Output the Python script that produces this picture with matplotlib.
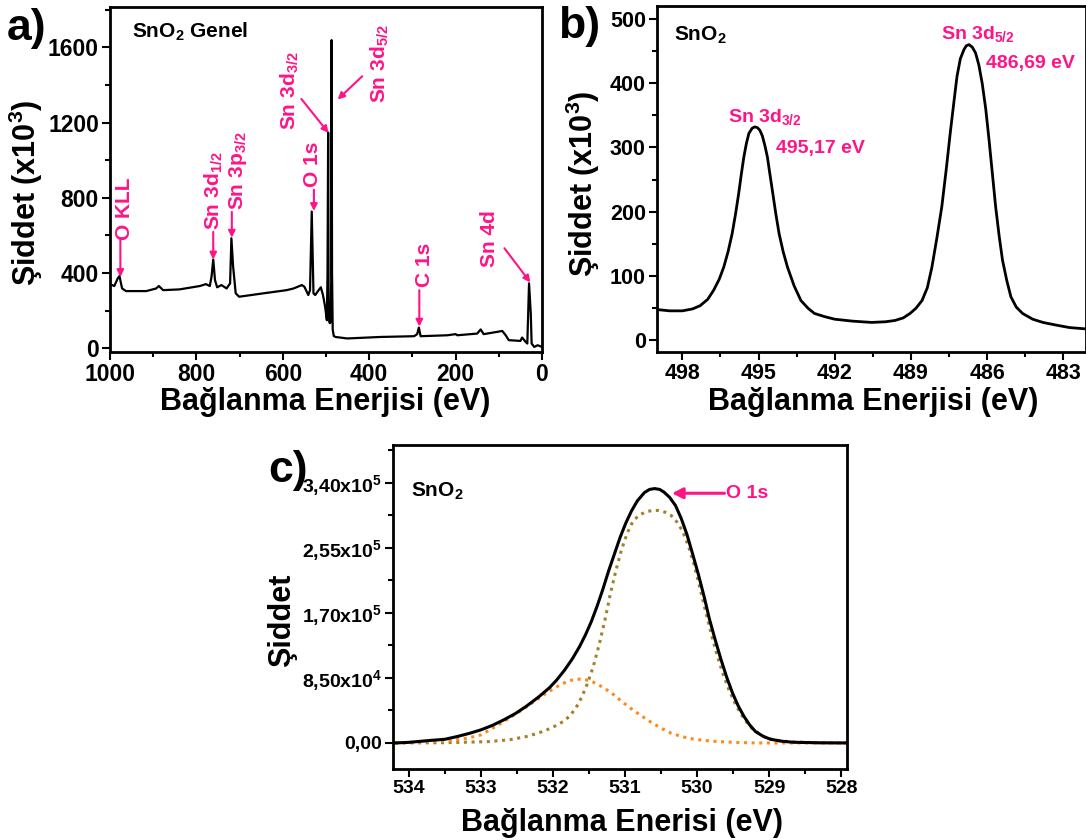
import numpy as np
import matplotlib
matplotlib.use("Agg")
import matplotlib.pyplot as plt
from matplotlib.ticker import MultipleLocator, FixedLocator, FixedFormatter

plt.rcParams['font.family'] = ['Liberation Sans', 'DejaVu Sans']
plt.rcParams['font.weight'] = 'bold'
plt.rcParams['mathtext.fontset'] = 'custom'
plt.rcParams['mathtext.rm'] = 'Liberation Sans:bold'
plt.rcParams['mathtext.bf'] = 'Liberation Sans:bold'
plt.rcParams['mathtext.it'] = 'Liberation Sans:bold'
plt.rcParams['mathtext.default'] = 'bf'

PINK = '#ff1488'
OLIVE = '#a0822a'
ORANGE = '#ff8a1c'

# a) survey spectrum, intensity in x10^3
survey_energy = [1000, 990, 982, 978, 975, 972, 963, 916, 893, 887, 877, 839, 792, 778,
                 769, 765, 761, 757, 752, 742, 730, 722, 719, 715, 709, 701, 645, 591,
                 575, 556, 550, 541, 537, 533, 529, 525, 517, 512, 507, 502, 498, 496.5,
                 495, 494, 492.5, 491, 489.5, 488, 487, 486, 484.5, 482, 478, 451, 374,
                 296, 289, 285, 281, 219, 200, 196, 150, 142, 135, 104, 92, 84, 77, 50,
                 46, 38, 34, 30, 26, 24, 18, 10, 0]
survey_counts = [341, 331, 372, 384, 350, 318, 304, 304, 318, 331, 309, 313, 331, 341,
                 331, 380, 472, 363, 324, 336, 318, 345, 585, 434, 292, 274, 292, 309,
                 318, 336, 327, 283, 309, 727, 292, 283, 309, 324, 283, 220, 149, 400,
                 1147, 250, 140, 133, 140, 350, 1639, 400, 100, 65, 60, 52, 60,
                 64, 75, 110, 64, 69, 75, 69, 78, 100, 75, 87, 92, 69, 43, 39,
                 57, 34, 25, 345, 185, 25, 7, 16, 7]

# b) Sn 3d region, intensity in x10^3
sn3d_energy = [499.0, 498.5, 498.0, 497.6, 497.3, 497.0, 496.77, 496.55, 496.37, 496.2,
               496.04, 495.9, 495.78, 495.68, 495.58, 495.48, 495.38, 495.25, 495.15, 495.05,
               494.95, 494.85, 494.75, 494.65, 494.55, 494.44, 494.32, 494.19, 494.03, 493.86,
               493.6, 493.33, 493.05, 492.8, 492.4, 492.0, 491.3, 490.55, 490.0, 489.63,
               489.3, 489.03, 488.8, 488.56, 488.35, 488.17, 487.98, 487.78, 487.6, 487.45,
               487.3, 487.18, 487.05, 486.91, 486.82, 486.71, 486.58, 486.45, 486.32, 486.19,
               486.05, 485.92, 485.79, 485.66, 485.52, 485.39, 485.22, 485.06, 484.85, 484.6,
               484.2, 483.8, 483.3, 482.75, 482.13]
sn3d_counts = [48, 46, 46, 49, 54, 64, 78, 95, 114, 138,
               166, 198, 229, 258, 285, 306, 322, 330, 332, 331,
               327, 318, 303, 285, 258, 229, 197, 166, 138, 114,
               85, 62, 50, 42, 37, 33, 30, 28, 29, 31,
               35, 42, 50, 62, 82, 114, 158, 208, 268, 322,
               372, 411, 438, 452, 458, 460, 456, 447, 428, 400,
               360, 312, 260, 208, 162, 125, 93, 68, 52, 42,
               33, 28, 24, 20, 18]

# c) O 1s region: envelope and two fitted components
o1s_energy = [534.19, 534.0, 533.69, 533.5, 533.32, 533.15, 533.0, 532.84, 532.68, 532.52,
              532.37, 532.2, 532.05, 531.95, 531.84, 531.73, 531.63, 531.55, 531.47, 531.39,
              531.31, 531.23, 531.15, 531.07, 530.99, 530.91, 530.83, 530.73, 530.66, 530.59,
              530.52, 530.46, 530.38, 530.30, 530.22, 530.14, 530.06, 529.98, 529.9, 529.83,
              529.75, 529.67, 529.59, 529.51, 529.43, 529.35, 529.27, 529.19, 529.08, 528.98,
              528.82, 528.66, 528.3, 527.92]
o1s_counts = [0, 800, 3400, 4800, 8600, 12800, 17100, 23000, 30300, 38500,
              47900, 60000, 72000, 82000, 95000, 110000, 126000, 141000, 158000, 178000,
              200000, 224000, 246000, 268000, 287000, 303000, 316000, 327000, 331000, 332100,
              331000, 327500, 320500, 310000, 293000, 271900, 246000, 219200, 190000, 162100,
              135000, 109400, 86000, 65500, 48500, 34700, 23500, 14900, 8500, 4800,
              2200, 900, 200, 0]

comp1_energy = [534.19, 533.5, 532.89, 532.6, 532.37, 532.2, 532.05, 531.95, 531.84, 531.76,
                531.68, 531.6, 531.52, 531.44, 531.36, 531.28, 531.21, 531.13, 531.05, 530.97,
                530.89, 530.81, 530.73, 530.63, 530.54, 530.45, 530.36, 530.28, 530.20, 530.12,
                530.04, 529.96, 529.88, 529.8, 529.72, 529.64, 529.56, 529.48, 529.40, 529.32,
                529.24, 529.13, 529.03, 528.85, 528.66, 528.3, 527.92]
comp1_counts = [0, 300, 1760, 4200, 8350, 13000, 18500, 23000, 29000, 36000,
                46000, 60000, 78000, 100000, 128000, 160000, 192000, 224000, 252000, 274000,
                289500, 297000, 301000, 303500, 303500, 301500, 297000, 288500, 276300, 257000,
                232400, 202000, 170900, 141000, 113800, 90000, 69800, 53000, 39100, 28000,
                19300, 11500, 6150, 2600, 1300, 200, 0]

comp2_energy = [534.19, 533.8, 533.42, 533.2, 533.0, 532.84, 532.68, 532.52, 532.37, 532.23,
                532.10, 532.0, 531.89, 531.78, 531.68, 531.58, 531.47, 531.37, 531.26, 531.15,
                531.05, 530.94, 530.83, 530.72, 530.62, 530.49, 530.36, 530.2, 530.04, 529.8,
                529.61, 529.4, 529.19, 527.92]
comp2_counts = [0, 1200, 3100, 6000, 10500, 19000, 28000, 37500, 47000, 56000,
                64500, 70500, 76400, 81000, 83300, 83300, 80800, 76000, 69800, 62500,
                54500, 46500, 39100, 32000, 25900, 18800, 12700, 8000, 4800, 2400,
                1300, 500, 0, 0]

c_ticks = [0, 85000, 170000, 255000, 340000]
c_ticklabels = ['0,00', '8,50x10$^4$', '1,70x10$^5$', '2,55x10$^5$', '3,40x10$^5$']


def style_axes(ax, fs=15):
    for sp in ax.spines.values():
        sp.set_linewidth(2)
    ax.tick_params(which='both', direction='out', top=False, right=False,
                   width=1.5, labelsize=fs)
    ax.tick_params(which='major', length=6, pad=2)
    ax.tick_params(which='minor', length=3.5)
    for lab in ax.get_xticklabels() + ax.get_yticklabels():
        lab.set_fontweight('bold')


def arrow(ax, tail, tip, lw=1.5, ms=10):
    ax.annotate('', xy=tip, xytext=tail,
                arrowprops=dict(arrowstyle='-|>', color=PINK, lw=lw,
                                mutation_scale=ms, shrinkA=0, shrinkB=0))


W, H = 1086, 840
fig = plt.figure(figsize=(W / 100, H / 100), dpi=100)

# ---- panel a ----
ax1 = fig.add_axes((110 / W, 1 - 352 / H, 432 / W, 345 / H))
ax1.plot(survey_energy, survey_counts, color='black', lw=1.6)
ax1.set_xlim(1000, 0)
ax1.set_ylim(-20, 1815)
ax1.xaxis.set_major_locator(MultipleLocator(200))
ax1.xaxis.set_minor_locator(MultipleLocator(100))
ax1.yaxis.set_major_locator(MultipleLocator(400))
ax1.yaxis.set_minor_locator(MultipleLocator(200))
style_axes(ax1, fs=16.5)
ax1.set_xlabel('Bağlanma Enerjisi (eV)', fontsize=22, fontweight='bold')
ax1.set_ylabel('Şiddet (x10$^3$)', fontsize=22, fontweight='bold')
ax1.xaxis.set_label_coords(0.498, -0.1)
ax1.yaxis.set_label_coords(-0.15, 0.46)
ax1.text(0.051, 0.91, 'SnO$_2$ Genel', transform=ax1.transAxes, fontsize=15,
         fontweight='bold', va='baseline')

a_labels = [('O KLL', 966, 576), ('Sn 3d$_{1/2}$', 759, 629), ('Sn 3p$_{3/2}$', 703, 736),
            ('O 1s', 531, 859), ('Sn 3d$_{3/2}$', 584, 1163), ('Sn 3d$_{5/2}$', 375, 1307),
            ('C 1s', 272, 325), ('Sn 4d', 121, 432)]
for txt, xe, yv in a_labels:
    ax1.text(xe, yv, txt, rotation=90, ha='center', va='bottom', color=PINK,
             fontsize=15, fontweight='bold')
arrow(ax1, (976, 576), (976, 379))
arrow(ax1, (761, 619), (761, 472))
arrow(ax1, (718, 725), (718, 588))
arrow(ax1, (528, 843), (528, 730))
arrow(ax1, (557, 1326), (494, 1145))
arrow(ax1, (416, 1447), (473, 1323))
arrow(ax1, (284, 309), (284, 115))
arrow(ax1, (87, 532), (27, 350))
fig.text(7 / W, 1 - 8 / H, 'a)', fontsize=32, fontweight='bold', va='top')

# ---- panel b ----
ax2 = fig.add_axes((657 / W, 1 - 352 / H, 429 / W, 346 / H))
ax2.plot(sn3d_energy, sn3d_counts, color='black', lw=2)
ax2.set_xlim(499.0, 482.1)
ax2.set_ylim(-18, 520)
ax2.xaxis.set_major_locator(MultipleLocator(3))
ax2.xaxis.set_minor_locator(MultipleLocator(1.5))
ax2.yaxis.set_major_locator(MultipleLocator(100))
ax2.yaxis.set_minor_locator(MultipleLocator(50))
style_axes(ax2, fs=15.5)
ax2.set_xlabel('Bağlanma Enerjisi (eV)', fontsize=22, fontweight='bold')
ax2.set_ylabel('Şiddet (x10$^3$)', fontsize=22, fontweight='bold')
ax2.xaxis.set_label_coords(0.503, -0.1)
ax2.yaxis.set_label_coords(-0.128, 0.486)
ax2.text(0.04, 0.9, 'SnO$_2$', transform=ax2.transAxes, fontsize=15,
         fontweight='bold', va='baseline')
ax2.text(496.2, 340, 'Sn 3d$_{3/2}$', color=PINK, fontsize=14, fontweight='bold', va='baseline')
ax2.text(494.3, 291, '495,17 eV', color=PINK, fontsize=14, fontweight='bold', va='baseline')
ax2.text(487.8, 469, 'Sn 3d$_{5/2}$', color=PINK, fontsize=14, fontweight='bold', va='baseline')
ax2.text(486.05, 424, '486,69 eV', color=PINK, fontsize=14, fontweight='bold', va='baseline')
fig.text(558 / W, 1 - 6 / H, 'b)', fontsize=32, fontweight='bold', va='top')

# ---- panel c ----
ax3 = fig.add_axes((393 / W, 1 - 769 / H, 454 / W, 324 / H))
ax3.plot(comp1_energy, comp1_counts, color=OLIVE, lw=2.2, linestyle=(0, (1, 1.5)))
ax3.plot(comp2_energy, comp2_counts, color=ORANGE, lw=2.2, linestyle=(0, (1, 1.5)))
ax3.plot(o1s_energy, o1s_counts, color='black', lw=2.2)
ax3.set_xlim(534.22, 527.92)
ax3.set_ylim(-34000, 389000)
ax3.xaxis.set_major_locator(MultipleLocator(1))
ax3.xaxis.set_minor_locator(MultipleLocator(0.5))
ax3.yaxis.set_major_locator(FixedLocator(c_ticks))
ax3.yaxis.set_major_formatter(FixedFormatter(c_ticklabels))
ax3.yaxis.set_minor_locator(MultipleLocator(42500))
style_axes(ax3, fs=14)
ax3.set_xlabel('Bağlanma Enerisi (eV)', fontsize=22, fontweight='bold')
ax3.set_ylabel('Şiddet', fontsize=22, fontweight='bold')
ax3.xaxis.set_label_coords(0.505, -0.12)
ax3.yaxis.set_label_coords(-0.211, 0.46)
ax3.text(0.04, 0.84, 'SnO$_2$', transform=ax3.transAxes, fontsize=15,
         fontweight='bold', va='baseline')
ax3.annotate('', xy=(530.35, 326000), xytext=(529.62, 326000),
             arrowprops=dict(arrowstyle='-|>', color=PINK, lw=2.2, mutation_scale=16,
                             shrinkA=0, shrinkB=0))
ax3.text(529.6, 326000, 'O 1s', color=PINK, fontsize=14, fontweight='bold', va='center')
fig.text(268 / W, 1 - 450 / H, 'c)', fontsize=32, fontweight='bold', va='top')

fig.savefig('out.png', dpi=100)
